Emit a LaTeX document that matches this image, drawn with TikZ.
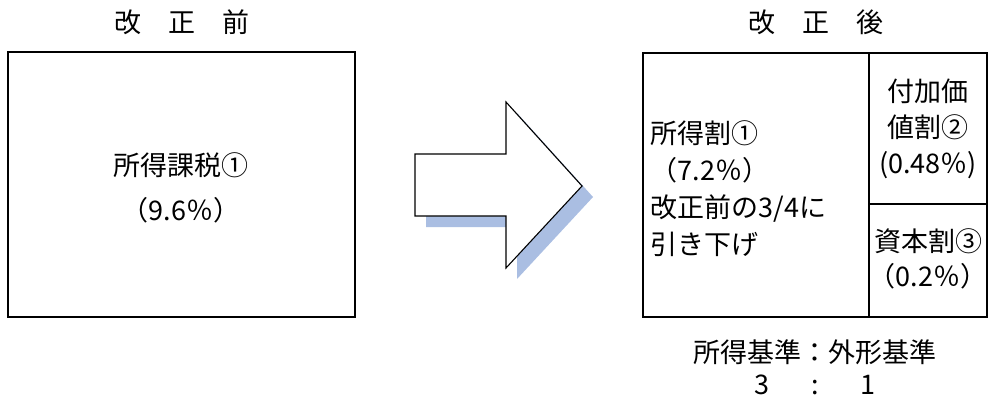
\documentclass[tikz,border=0pt]{standalone}
\usepackage{fontspec}
\setmainfont{Noto Sans CJK JP}
\usetikzlibrary{calc}
\definecolor{shadowblue}{RGB}{170,190,226}

\begin{document}
\begin{tikzpicture}[x=0.5pt, y=-0.5pt, line width=0.55pt,
  font=\fontsize{13.5}{16}\selectfont,
  lbl/.style={inner sep=0pt, anchor=center, align=center}]
\useasboundingbox (0,0) rectangle (988,401);
% headings
\node[lbl] (head1) at (182,22) {改\hspace{13.5pt}正\hspace{13.5pt}前};
\node[lbl] (head2) at (816,22) {改\hspace{13.5pt}正\hspace{13.5pt}後};
% before
\draw (8,52) rectangle (355,317);
\node[lbl, font=\fontsize{13.5}{22.5}\selectfont] (oldtax) at (181,188) {所得課税①\\（9.6％）};
% arrow with shadow
\fill[shadowblue] (426,165) -- (517,165) -- (517,113) -- (593,197) -- (517,279) -- (517,227) -- (426,227) -- cycle;
\draw[fill=white, line join=miter] (415,154) -- (506,154) -- (506,102) -- (582,186) -- (506,268) -- (506,216) -- (415,216) -- cycle;
% after
\draw (643,53) rectangle (987,317);
\draw (869,53) -- (869,317) (869,204) -- (987,204);
\node[lbl, anchor=west, align=left, font=\fontsize{13.5}{18.5}\selectfont] (income) at (650,189) {所得割①\\（7.2％）\\改正前の3/4に\\引き下げ};
\node[lbl, font=\fontsize{13.5}{18}\selectfont] (addval) at (928,129) {付加価\\値割②\\\,(0.48％)\,};
\node[lbl, font=\fontsize{13.5}{17.5}\selectfont] (capital) at (928,259) {資本割③\\（0.2％）};
% ratio
\node[lbl] (ratio) at (815,352) {所得基準：外形基準};
\node[lbl] (ratioval) at (815,385) {3\hspace{21pt}:\hspace{21pt}1};
\end{tikzpicture}
\end{document}
